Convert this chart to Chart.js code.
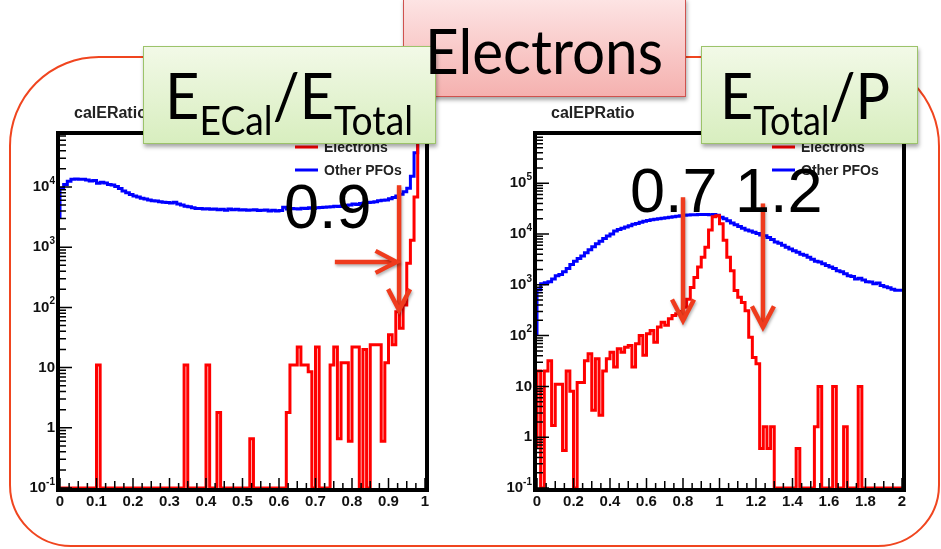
<!DOCTYPE html>
<html>
<head>
<meta charset="utf-8">
<script src="https://cdn.jsdelivr.net/npm/chart.js@4/dist/chart.umd.min.js"></script>
<style>
  html, body { margin: 0; padding: 0; background: #fff; }
  #slide { position: relative; width: 941px; height: 549px; overflow: hidden; }
  .frame {
    position: absolute; left: 9px; top: 56px; width: 931px; height: 491px;
    box-sizing: border-box; border: 2px solid #f0451f;
    border-radius: 90px 90px 62px 62px;
  }
  canvas { position: absolute; }
  .num {
    position: absolute; white-space: pre; font-family: "Liberation Sans", Arial, sans-serif;
    font-size: 63px; color: #000; line-height: 1; z-index: 3;
  }
  .box { position: absolute; box-sizing: border-box; box-shadow: 1px 3px 4px rgba(0,0,0,0.35); }
  .green { background: linear-gradient(#f2f9e7, #d8eebf); border: 1.5px solid #9cc36a; z-index: 4; }
  .pink { background: linear-gradient(#fde4e4, #f5b1af); border: 1.5px solid #cf524e; z-index: 4; }
  .ppt {
    position: absolute; white-space: nowrap; font-family: Lato, "Open Sans", sans-serif;
    color: #000; line-height: 1; transform-origin: left top; z-index: 5;
  }
  .ppt .sub { font-size: 40px; vertical-align: -16px; }
</style>
</head>
<body>
<div id="slide">
  <div class="frame"></div>
  <canvas id="graficoEcal" width="430" height="420" style="left:10px;top:95px"></canvas>
  <canvas id="graficoEP" width="430" height="420" style="left:487px;top:95px"></canvas>

  <div class="num" id="corteEcal">0.9</div>
  <div class="num" id="corteEP">0.7 1.2</div>

  <div class="box pink" style="left:403px;top:-2px;width:283px;height:99px"></div>
  <div class="box green" style="left:143px;top:46px;width:293px;height:98px"></div>
  <div class="box green" style="left:701px;top:46px;width:217px;height:98px"></div>

  <div class="ppt" id="txtEletrons" style="font-size:61px">Electrons</div>
  <div class="ppt" id="txtEcal" style="font-size:64px">E<span class="sub">ECal</span>/E<span class="sub">Total</span></div>
  <div class="ppt" id="txtEP" style="font-size:64px">E<span class="sub">Total</span>/P</div>
</div>

<script>
// ---- calERatio : 100 bins de 0.01 entre 0 e 1
const ecalBinWidth = 0.01;
const ecalElectrons = [
  0, 0, 0, 0, 0, 0, 0, 0, 0, 0,
  0, 11, 0, 0, 0, 0, 0, 0, 0, 0,
  0, 0, 0, 0, 0, 0, 0, 0, 0, 0,
  0, 0, 0, 0, 0, 11, 0, 0, 0, 0,
  0, 11, 0, 0, 1.8, 0, 0, 0, 0, 0,
  0, 0, 0, 0.66, 0, 0, 0, 0, 0, 0,
  0, 0, 0, 1.8, 11, 11, 22, 11, 11, 8.5,
  0, 22, 0, 0, 0, 11, 22, 0.66, 12, 12,
  0.6, 22, 22, 0, 20, 0, 24, 24, 24, 0.6,
  12, 35, 24, 85, 45, 110, 540, 1300, 6800, 150000
];
const ecalOutros = [
  3000, 9500, 11000, 12500, 13500, 13600, 13400, 13500, 13000, 12600,
  12800, 11500, 12000, 11600, 11000, 10800, 10200, 9400, 8600, 8000,
  7500, 7100, 6800, 6500, 6300, 6100, 5900, 5850, 5700, 5600,
  5500, 5400, 5600, 5200, 5000, 4800, 4700, 4500, 4400, 4400,
  4300, 4350, 4250, 4300, 4200, 4250, 4100, 4300, 4200, 4250,
  4150, 4200, 4100, 4150, 4200, 4050, 4100, 4150, 4000, 4100,
  4000, 4050, 4600, 4300, 4400, 4350, 4300, 4450, 4400, 4500,
  4400, 4500, 4550, 4600, 4650, 4700, 4800, 4750, 4900, 4950,
  5000, 5200, 5100, 5300, 5400, 5500, 5600, 5700, 5900, 6000,
  6100, 6400, 6700, 7100, 7600, 8300, 9500, 15000, 37000, 65000
];
const ecalXTicks = [0, 0.1, 0.2, 0.3, 0.4, 0.5, 0.6, 0.7, 0.8, 0.9, 1];
const ecalXLabels = ["0", "0.1", "0.2", "0.3", "0.4", "0.5", "0.6", "0.7", "0.8", "0.9", "1"];
const ecalYExpoentes = [-1, 0, 1, 2, 3, 4];
// setas do corte em 0.9 (coordenadas em unidades do grafico)
const ecalSetas = [
  { x0: 0.929, y0: 10700, x1: 0.929, y1: 90 },
  { x0: 0.753, y0: 570, x1: 0.922, y1: 570 }
];

// ---- calEPRatio : 100 bins de 0.02 entre 0 e 2
const epBinWidth = 0.02;
const epElectrons = [
  0.6, 20, 0, 20, 32, 1.7, 11, 11, 0.55, 20,
  8, 0, 12, 12, 32, 44, 3.4, 35, 2.7, 20,
  35, 47, 24, 55, 47, 59, 64, 24, 69, 100,
  41, 109, 126, 74, 147, 183, 160, 215, 250, 270,
  300, 360, 520, 890, 1400, 2250, 3500, 5500, 12000, 22000,
  23000, 16000, 7500, 3500, 1900, 770, 570, 450, 310, 93,
  37, 28, 0.6, 1.6, 0.6, 1.6, 0, 0, 0, 0,
  0, 0, 0.6, 0, 0, 0, 0, 1.6, 10, 0,
  0, 0, 10, 0, 0, 1.6, 0, 0, 0, 10,
  0, 0, 0, 0, 0, 0, 0, 0, 0, 0
];
const epOutros = [
  100, 800, 1050, 1100, 1150, 1300, 1500, 1600, 1800, 2100,
  2500, 2900, 3300, 3700, 4300, 4900, 5600, 6400, 7200, 8200,
  9100, 10000, 11500, 12300, 13000, 13700, 14500, 15500, 16200, 17000,
  17800, 18500, 19000, 19500, 20000, 20500, 21000, 21500, 22000, 22500,
  23000, 23500, 23800, 24000, 24000, 24200, 24100, 24200, 24000, 24100,
  23500, 21500, 20000, 18300, 16500, 15200, 14000, 13000, 12000, 11500,
  10800, 10200, 9600, 9200, 8500, 7800, 7000, 6600, 6000, 5500,
  5100, 4700, 4400, 4000, 3800, 3500, 3200, 2900, 2800, 2600,
  2400, 2250, 2100, 1900, 1800, 1650, 1500, 1450, 1300, 1350,
  1250, 1150, 1130, 1050, 1080, 970, 920, 880, 820, 780
];
const epXTicks = [0, 0.2, 0.4, 0.6, 0.8, 1, 1.2, 1.4, 1.6, 1.8, 2];
const epXLabels = ["0", "0.2", "0.4", "0.6", "0.8", "1", "1.2", "1.4", "1.6", "1.8", "2"];
const epYExpoentes = [-1, 0, 1, 2, 3, 4, 5];
// setas dos cortes em 0.7 e 1.2
const epSetas = [
  { x0: 0.8, y0: 53000, x1: 0.8, y1: 198 },
  { x0: 1.238, y0: 40000, x1: 1.238, y1: 146 }
];

const fonteRoot = '"Liberation Sans", Arial, sans-serif';
const corSeta = "#ef3b1d";

// transforma a lista de bins em pontos de degrau (borda esquerda de cada bin + borda final)
function pontosHistograma(valores, largura, minimo) {
  const pts = [];
  for (let i = 0; i < valores.length; i++) {
    pts.push({ x: i * largura, y: Math.max(valores[i], minimo) });
  }
  pts.push({ x: valores.length * largura, y: Math.max(valores[valores.length - 1], minimo) });
  return pts;
}

function desenharSeta(ctx, x0, y0, x1, y1) {
  const ang = Math.atan2(y1 - y0, x1 - x0);
  const c = Math.cos(ang), s = Math.sin(ang);
  ctx.beginPath();
  ctx.moveTo(x0, y0);
  ctx.lineTo(x1 - c * 2, y1 - s * 2);
  ctx.stroke();
  const bx = x1 - c * 21, by = y1 - s * 21;
  ctx.beginPath();
  ctx.moveTo(bx - s * 11, by + c * 11);
  ctx.lineTo(x1, y1);
  ctx.lineTo(bx + s * 11, by - c * 11);
  ctx.stroke();
}

// moldura, ticks internos, rotulos do eixo y, titulo, legenda e setas
const estiloRoot = {
  id: "estiloRoot",
  afterDraw(chart, args, opts) {
    const ctx = chart.ctx;
    const a = chart.chartArea;
    const xs = chart.scales.x;
    const ys = chart.scales.y;
    ctx.save();

    // ticks do eixo x (para dentro)
    ctx.strokeStyle = "#000";
    ctx.lineWidth = 1.5;
    ctx.beginPath();
    const n = Math.round((xs.max - xs.min) / opts.xMenor);
    for (let i = 0; i <= n; i++) {
      const v = xs.min + i * opts.xMenor;
      const px = xs.getPixelForValue(v);
      const k = Math.round(v / opts.xMaior * 1000) / 1000;
      const len = Math.abs(k - Math.round(k)) < 1e-6 ? 10 : (Math.abs(k * 2 - Math.round(k * 2)) < 1e-6 ? 7 : 5);
      ctx.moveTo(px, a.bottom);
      ctx.lineTo(px, a.bottom - len);
    }
    // ticks do eixo y log
    for (let e = opts.yExp[0]; e <= opts.yExp[opts.yExp.length - 1] + 1; e++) {
      for (let m = 1; m <= 9; m++) {
        const v = m * Math.pow(10, e);
        if (v > ys.max || v < ys.min) continue;
        const py = ys.getPixelForValue(v);
        ctx.moveTo(a.left, py);
        ctx.lineTo(a.left + (m == 1 ? 12 : 6), py);
      }
    }
    ctx.stroke();

    // moldura preta
    ctx.lineWidth = 4;
    ctx.strokeRect(a.left - 2, a.top - 2, a.right - a.left + 4, a.bottom - a.top + 4);

    // rotulos 10^n
    ctx.fillStyle = "#111";
    ctx.textBaseline = "middle";
    ctx.textAlign = "right";
    for (const e of opts.yExp) {
      const py = ys.getPixelForValue(Math.pow(10, e));
      const xr = a.left - 5;
      if (e == 0) {
        ctx.font = "bold 15px " + fonteRoot;
        ctx.fillText("1", xr, py);
      } else if (e == 1) {
        ctx.font = "bold 15px " + fonteRoot;
        ctx.fillText("10", xr, py);
      } else {
        ctx.font = "bold 10px " + fonteRoot;
        const sup = String(e);
        const w = ctx.measureText(sup).width;
        ctx.fillText(sup, xr, py - 6);
        ctx.font = "bold 15px " + fonteRoot;
        ctx.fillText("10", xr - w, py);
      }
    }

    // titulo do histograma
    ctx.textAlign = "left";
    ctx.textBaseline = "alphabetic";
    ctx.font = "bold 16px " + fonteRoot;
    ctx.fillStyle = "#222";
    ctx.fillText(opts.titulo, a.left + 14, a.top - 17);

    // legenda
    ctx.textBaseline = "middle";
    ctx.font = "bold 14px " + fonteRoot;
    chart.data.datasets.forEach(function (ds, i) {
      const y = a.top + 12 + i * 23;
      ctx.strokeStyle = ds.borderColor;
      ctx.lineWidth = 3;
      ctx.beginPath();
      ctx.moveTo(a.left + 235, y);
      ctx.lineTo(a.left + 258, y);
      ctx.stroke();
      ctx.fillStyle = "#222";
      ctx.fillText(ds.label, a.left + 264, y + 1);
    });

    // setas dos cortes
    ctx.strokeStyle = corSeta;
    ctx.lineWidth = 4.5;
    ctx.lineJoin = "miter";
    ctx.shadowColor = "rgba(0,0,0,0.3)";
    ctx.shadowBlur = 3;
    ctx.shadowOffsetX = 1;
    ctx.shadowOffsetY = 2;
    for (const s of opts.setas) {
      desenharSeta(ctx,
        xs.getPixelForValue(s.x0), ys.getPixelForValue(s.y0),
        xs.getPixelForValue(s.x1), ys.getPixelForValue(s.y1));
    }
    ctx.restore();
  }
};

function criarHistograma(canvasId, cfg) {
  return new Chart(document.getElementById(canvasId), {
    type: "line",
    data: {
      datasets: [
        {
          label: "Electrons",
          data: pontosHistograma(cfg.electrons, cfg.binWidth, cfg.yMin),
          borderColor: "#ff0000",
          borderWidth: 3,
          stepped: "after",
          pointRadius: 0,
          fill: false,
          order: 0,
        },
        {
          label: "Other PFOs",
          data: pontosHistograma(cfg.outros, cfg.binWidth, cfg.yMin),
          borderColor: "#0000ff",
          borderWidth: 3,
          stepped: "after",
          pointRadius: 0,
          fill: false,
          order: 1,
        },
      ],
    },
    options: {
      responsive: false,
      animation: false,
      layout: { padding: { top: 40, right: 15, left: 0, bottom: 0 } },
      plugins: {
        legend: { display: false },
        tooltip: { enabled: false },
        estiloRoot: {
          titulo: cfg.titulo,
          xMaior: cfg.xMaior,
          xMenor: cfg.xMenor,
          yExp: cfg.yExp,
          setas: cfg.setas,
        },
      },
      scales: {
        x: {
          type: "linear",
          min: 0,
          max: cfg.xTicks[cfg.xTicks.length - 1],
          afterBuildTicks: function (s) {
            s.ticks = cfg.xTicks.map(function (v) { return { value: v }; });
          },
          afterFit: function (s) { s.height = 27; },
          grid: { display: false, drawTicks: false },
          border: { display: false },
          ticks: {
            autoSkip: false,
            maxRotation: 0,
            padding: 5,
            color: "#111",
            font: { family: fonteRoot, weight: "bold", size: 15 },
            callback: function (v, i) { return cfg.xLabels[i]; },
          },
        },
        y: {
          type: "logarithmic",
          min: cfg.yMin,
          max: cfg.yMax,
          afterFit: function (s) { s.width = 50; },
          grid: { display: false, drawTicks: false },
          border: { display: false },
          ticks: { display: false },
        },
      },
    },
    plugins: [estiloRoot],
  });
}

criarHistograma("graficoEcal", {
  titulo: "calERatio",
  binWidth: ecalBinWidth,
  electrons: ecalElectrons,
  outros: ecalOutros,
  xTicks: ecalXTicks,
  xLabels: ecalXLabels,
  xMaior: 0.1,
  xMenor: 0.025,
  yMin: 0.1,
  yMax: 73000,
  yExp: ecalYExpoentes,
  setas: ecalSetas,
});

criarHistograma("graficoEP", {
  titulo: "calEPRatio",
  binWidth: epBinWidth,
  electrons: epElectrons,
  outros: epOutros,
  xTicks: epXTicks,
  xLabels: epXLabels,
  xMaior: 0.2,
  xMenor: 0.05,
  yMin: 0.1,
  yMax: 890000,
  yExp: epYExpoentes,
  setas: epSetas,
});

// posiciona texto pela linha de base e ajusta a largura
function posicionarTexto(id, esquerda, base, largura) {
  const el = document.getElementById(id);
  const marca = document.createElement("span");
  marca.style.display = "inline-block";
  marca.style.width = "0px";
  marca.style.height = "0px";
  el.appendChild(marca);
  const off = marca.offsetTop;
  el.removeChild(marca);
  el.style.left = esquerda + "px";
  el.style.top = (base - off) + "px";
  if (largura) {
    const w = el.getBoundingClientRect().width;
    el.style.transform = "scaleX(" + (largura / w) + ")";
  }
}

posicionarTexto("corteEcal", 284, 228);
posicionarTexto("corteEP", 630, 212);
posicionarTexto("txtEletrons", 425, 74, 238);
posicionarTexto("txtEcal", 165, 119, 248);
posicionarTexto("txtEP", 720, 119, 170);
</script>
</body>
</html>
